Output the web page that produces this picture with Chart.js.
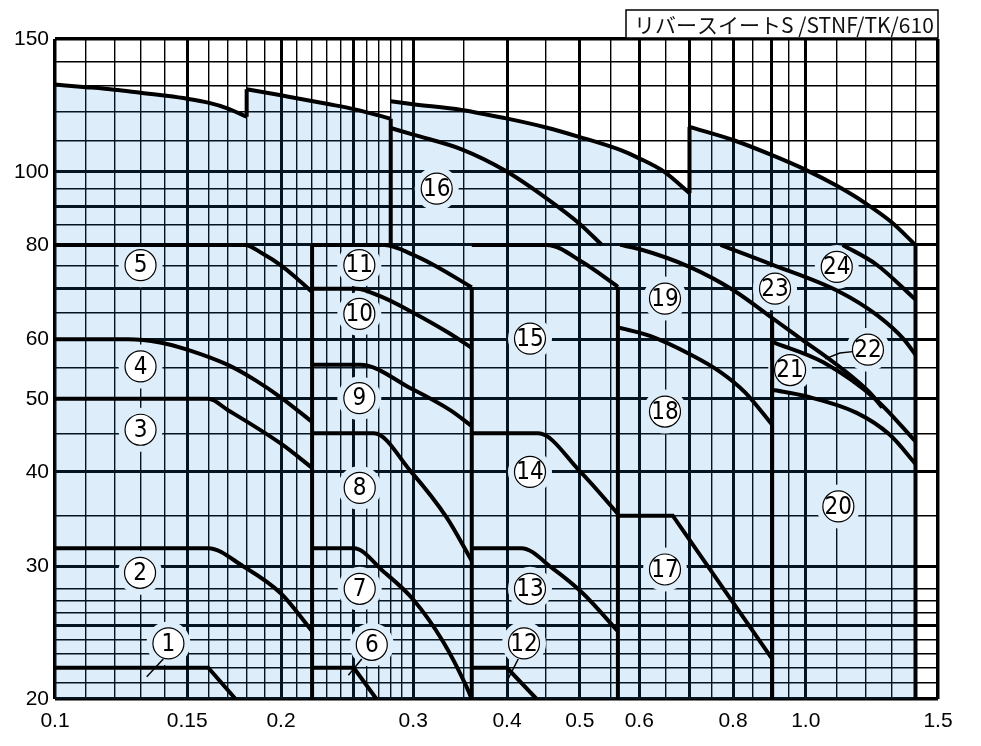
<!DOCTYPE html>
<html>
<head>
<meta charset="utf-8">
<script src="https://cdn.jsdelivr.net/npm/chart.js@4.4.0/dist/chart.umd.min.js"></script>
<style>
  body { margin: 0; background: #fff; }
</style>
</head>
<body>
<canvas id="chart" width="981" height="746"></canvas>
<script>
// grid and tick values (log-log paper)
const xGrid = [0.1, 0.11, 0.12, 0.13, 0.14, 0.15, 0.16, 0.17, 0.18, 0.19, 0.2, 0.21, 0.22, 0.23, 0.24, 0.25,
  0.26, 0.27, 0.28, 0.29, 0.3, 0.35, 0.4, 0.45, 0.5, 0.55, 0.6, 0.65, 0.7, 0.75, 0.8, 0.85, 0.9, 0.95, 1.0,
  1.1, 1.2, 1.3, 1.4, 1.5];
const xThick = [0.15, 0.2, 0.25, 0.3, 0.4, 0.5, 0.6, 0.7, 0.8, 0.9, 1.0];
const xLabels = [0.1, 0.15, 0.2, 0.3, 0.4, 0.5, 0.6, 0.8, 1.0, 1.5];
const yGrid = [20, 21, 22, 23, 24, 25, 26, 27, 28, 30, 35, 40, 45, 50, 55, 60, 65, 70, 75, 80, 85, 90, 95,
  100, 110, 120, 130, 140, 150];
const yThick = [25, 30, 40, 50, 60, 70, 80, 90, 100];
const yLabels = [20, 30, 40, 50, 60, 80, 100, 150];

// envelope outline pieces
const envA = [[0.1, 130.5], [0.11, 129.5], [0.12, 128.5], [0.13, 127.3], [0.14, 126.2], [0.15, 125],
  [0.16, 123.5], [0.17, 121.3], [0.18, 118.3]];
const envB = [[0.18, 128.7], [0.2, 126.3], [0.232, 122.9], [0.25, 121.1], [0.28, 117.6]];
const envC = [[0.28, 124], [0.3, 122.9], [0.348, 120.8], [0.3975, 117.8], [0.451, 114.5], [0.5, 111.2],
  [0.566, 106.9], [0.6, 104.2], [0.648, 100], [0.7, 93.7]];
const envD = [[0.7, 114.7], [0.8, 110.2], [0.9, 105.3], [1.0, 100.6], [1.1, 95.8], [1.2, 90.9], [1.3, 85.8], [1.4, 80]];
const notch1 = [[0.18, 118.3], [0.18, 128.7]];
const notch2 = [[0.7, 93.7], [0.7, 114.7]];

// vertical boundaries
const bound1 = [[0.22, 80], [0.22, 20]];
const bound2 = [[0.359, 70.3], [0.359, 20]];
const bound3 = [[0.562, 70.4], [0.562, 20]];
const bound4 = [[0.902, 64], [0.902, 20]];
const bound5 = [[1.4, 80], [1.4, 20]];
const bound16 = [[0.28, 117.6], [0.28, 80]];

// region curves
const line1 = [[0.1, 22], [0.16, 22], [0.174, 20]];
const line2 = [[0.1, 31.7], [0.16, 31.7], [0.178, 30], [0.2, 27.6], [0.22, 24.6]];
const line3 = [[0.1, 50], [0.16, 50], [0.17, 48.3], [0.2, 43.6], [0.22, 40.5]];
const line4 = [[0.1, 60], [0.125, 60], [0.138, 59.4], [0.15, 58.1], [0.171, 55.3], [0.185, 52.9], [0.2, 50.2], [0.22, 46.6]];
const line5 = [[0.1, 80], [0.179, 80], [0.1887, 78], [0.2006, 75], [0.21, 72.2], [0.22, 69.3]];
const line6 = [[0.22, 22], [0.25, 22], [0.268, 20]];
const line7 = [[0.22, 31.7], [0.25, 31.7], [0.274, 29.5], [0.3, 27.1], [0.329, 23.8], [0.353, 20.8], [0.359, 20]];
const line8 = [[0.22, 45], [0.266, 45], [0.297, 40.2], [0.3325, 34.8], [0.359, 30.5]];
const line9 = [[0.22, 55.5], [0.255, 55.5], [0.298, 51.6], [0.336, 48.3], [0.359, 46]];
const line10 = [[0.22, 70], [0.252, 70], [0.271, 68.4], [0.297, 65.4], [0.336, 61], [0.359, 58.4]];
const line11 = [[0.22, 80], [0.275, 80], [0.3, 77.6], [0.319, 75.3], [0.359, 70.3]];
const line12 = [[0.359, 22], [0.4, 22], [0.438, 20]];
const line13 = [[0.359, 31.7], [0.418, 31.7], [0.46, 29.8], [0.505, 27.6], [0.562, 24.6]];
const line14 = [[0.359, 45], [0.44, 45], [0.5, 40.1], [0.562, 35.2]];
const line15 = [[0.359, 80], [0.452, 80], [0.505, 75.8], [0.562, 70.4]];
const line16 = [[0.28, 114.3], [0.3, 112], [0.348, 107.1], [0.3975, 100.4], [0.451, 92.3], [0.5, 85.3], [0.535, 80]];
const line17 = [[0.562, 35], [0.665, 35], [0.902, 22.6]];
const line18 = [[0.562, 62.2], [0.62, 60.6], [0.701, 57.3], [0.769, 54.3], [0.83, 51], [0.902, 46.2]];
const line19 = [[0.566, 80], [0.6, 79], [0.7, 74.8], [0.8, 69.7], [0.902, 64], [0.982, 60.2], [1.11, 55.1],
  [1.218, 50.9], [1.264, 48.7]];
const line21 = [[0.902, 59.5], [1.055, 55.9], [1.243, 49.8], [1.4, 43.9]];
const line20 = [[0.902, 51.4], [1.0, 50.4], [1.169, 47.9], [1.294, 44.8], [1.4, 41]];
const line23 = [[0.77, 80], [0.9, 75.4], [1.11, 69.3], [1.243, 64.6], [1.35, 60], [1.4, 57.2]];
const line24 = [[1.12, 80], [1.243, 75.3], [1.4, 67.7]];

// leader lines for some labels
const lead1 = [[0.1394, 22.6], [0.1325, 21.4]];
const lead6 = [[0.2562, 22.6], [0.2459, 21.5]];
const lead12 = [[0.414, 22.6], [0.4016, 21.3]];
const lead22 = [[1.163, 57.8], [1.11, 57.5], [1.061, 56.5]];

// circled region numbers
const labelText = ['1', '2', '3', '4', '5', '6', '7', '8', '9', '10', '11', '12', '13', '14', '15', '16',
  '17', '18', '19', '20', '21', '22', '23', '24'];
const labelX = [0.1416, 0.1298, 0.13, 0.13, 0.13, 0.2642, 0.2546, 0.2546, 0.2543, 0.2543, 0.2543, 0.4214,
  0.4292, 0.4292, 0.4292, 0.3224, 0.6493, 0.6493, 0.6493, 1.105, 0.953, 1.21, 0.91, 1.0996];
const labelY = [23.7, 29.4, 45.5, 55.2, 75.2, 23.6, 28.0, 38.1, 50.1, 64.8, 75.2, 23.7, 28.0, 40, 60.1, 95,
  29.7, 48.1, 67.9, 36, 54.6, 58.1, 70, 74.8];

const titleText = 'リバースイートS /STNF/TK/610';

const FILL_SOLID = 'rgb(221,238,250)';
const toPts = arr => arr.map(p => ({ x: p[0], y: p[1] }));

// filled area = envelope outline closed down the 1.4 boundary
const envelope = [...envA, ...envB, ...envC, ...envD, [1.4, 20]];

const curved = [envA, envB, envC, envD, line2, line3, line4, line5, line7, line8, line9, line10, line11,
  line13, line14, line15, line16, line18, line19, line20, line21, line23, line24];
const straight = [notch1, notch2, bound1, bound2, bound3, bound4, bound5, bound16, line1, line6, line12, line17];
const leaders = [lead1, lead6, lead12, lead22];

const datasets = [
  {
    data: toPts(envelope),
    showLine: true,
    fill: 'start',
    backgroundColor: 'rgba(28,142,222,0.15)',
    borderWidth: 0,
    pointRadius: 0,
    tension: 0,
    order: 10
  }
];
curved.forEach(l => datasets.push({ data: toPts(l), showLine: true, borderColor: '#000', borderWidth: 4,
  pointRadius: 0, cubicInterpolationMode: 'monotone', fill: false }));
straight.forEach(l => datasets.push({ data: toPts(l), showLine: true, borderColor: '#000', borderWidth: 4,
  pointRadius: 0, tension: 0, fill: false, borderJoinStyle: 'miter' }));
leaders.forEach(l => datasets.push({ data: toPts(l), showLine: true, borderColor: '#000', borderWidth: 1.5,
  pointRadius: 0, tension: 0, fill: false }));

const labelsPlugin = {
  id: 'regionLabels',
  afterDatasetDraw(chart, args) {
    // knock the grid out around the labels, right after the fill is drawn
    if (args.index !== 0) return;
    const { ctx, scales: { x, y } } = chart;
    ctx.save();
    ctx.fillStyle = FILL_SOLID;
    labelX.forEach((v, i) => {
      ctx.beginPath();
      ctx.arc(x.getPixelForValue(v), y.getPixelForValue(labelY[i]), 22, 0, Math.PI * 2);
      ctx.fill();
    });
    ctx.restore();
  },
  afterDatasetsDraw(chart) {
    const { ctx, scales: { x, y } } = chart;
    ctx.save();
    labelX.forEach((v, i) => {
      const px = x.getPixelForValue(v);
      const py = y.getPixelForValue(labelY[i]);
      ctx.beginPath();
      ctx.arc(px, py, 15.5, 0, Math.PI * 2);
      ctx.fillStyle = '#fff';
      ctx.fill();
      ctx.lineWidth = 1.2;
      ctx.strokeStyle = '#000';
      ctx.stroke();
      ctx.fillStyle = '#000';
      ctx.textAlign = 'center';
      ctx.textBaseline = 'middle';
      ctx.font = '24px "Liberation Sans Narrow", "DejaVu Sans Condensed", Arial, sans-serif';
      ctx.fillText(labelText[i], px, py + 1);
    });
    ctx.restore();
  },
  afterDraw(chart) {
    const { ctx, chartArea } = chart;
    ctx.save();
    const right = chartArea.right;
    const left = right - 312;
    const top = 10;
    const bottom = chartArea.top - 1;
    ctx.fillStyle = '#fff';
    ctx.fillRect(left, top, right - left, bottom - top);
    ctx.lineWidth = 1.5;
    ctx.strokeStyle = '#000';
    ctx.strokeRect(left, top, right - left, bottom - top);
    ctx.fillStyle = '#111';
    ctx.font = '21px "Noto Sans CJK JP", sans-serif';
    ctx.textBaseline = 'middle';
    ctx.textAlign = 'left';
    ctx.fillText(titleText, left + 8, (top + bottom) / 2 + 1);
    ctx.restore();
  }
};

const gridWidth = (thick, edges) => c => {
  const v = c.tick ? c.tick.value : null;
  if (edges.includes(v)) return 3.5;
  return thick.includes(v) ? 3 : 1.4;
};

new Chart(document.getElementById('chart'), {
  type: 'scatter',
  data: { datasets },
  options: {
    responsive: false,
    animation: false,
    events: [],
    layout: { padding: { top: 39, right: 43, left: 0, bottom: 0 } },
    plugins: { legend: { display: false }, tooltip: { enabled: false }, title: { display: false } },
    scales: {
      x: {
        type: 'logarithmic',
        min: 0.1,
        max: 1.5,
        afterBuildTicks: s => { s.ticks = xGrid.map(v => ({ value: v })); },
        afterFit: s => { s.height = 47; },
        border: { display: false },
        grid: { color: '#000', drawTicks: false, lineWidth: gridWidth(xThick, [0.1, 1.5]) },
        ticks: {
          autoSkip: false,
          maxRotation: 0,
          padding: 10,
          color: '#000',
          font: { family: '"Liberation Sans", Arial, sans-serif', size: 21 },
          callback: v => xLabels.includes(v) ? (v === 1 ? '1.0' : String(v)) : ''
        }
      },
      y: {
        type: 'logarithmic',
        min: 20,
        max: 150,
        afterBuildTicks: s => { s.ticks = yGrid.map(v => ({ value: v })); },
        afterFit: s => { s.width = 55; },
        border: { display: false },
        grid: { color: '#000', drawTicks: false, lineWidth: gridWidth(yThick, [20, 150]) },
        ticks: {
          autoSkip: false,
          padding: 6,
          color: '#000',
          font: { family: '"Liberation Sans", Arial, sans-serif', size: 21 },
          callback: v => yLabels.includes(v) ? String(v) : ''
        }
      }
    }
  },
  plugins: [labelsPlugin]
});
</script>
</body>
</html>
